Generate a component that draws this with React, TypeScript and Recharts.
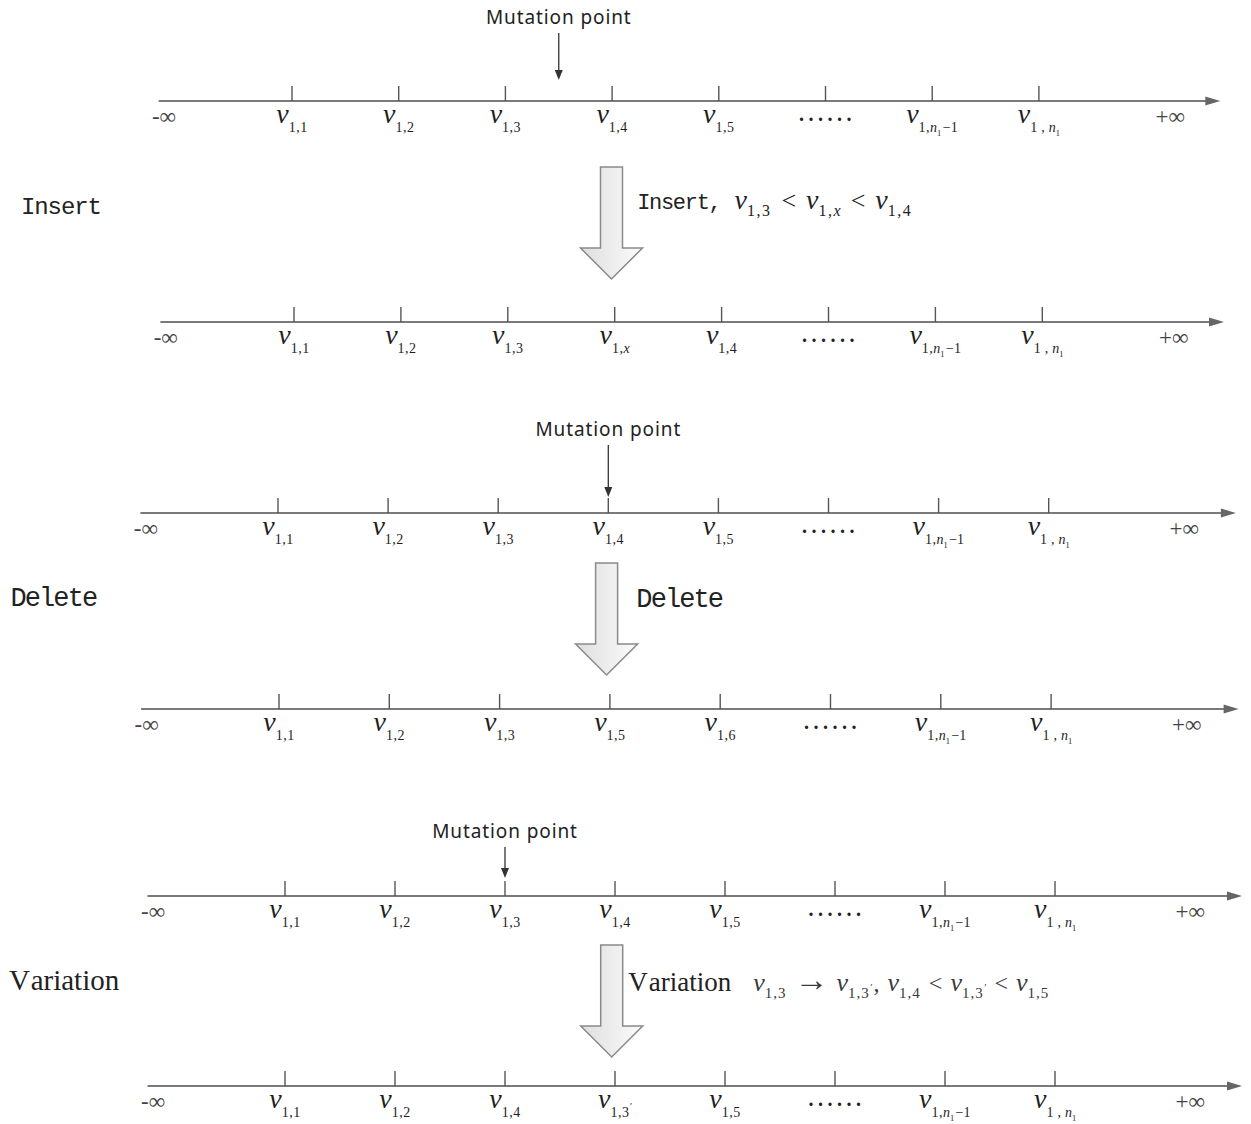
import React from 'react';
import { ComposedChart, XAxis, YAxis, Scatter, ReferenceLine } from 'recharts';

// ---------------- data ----------------
const tickIndex = [1, 2, 3, 4, 5, 6, 7, 8];
const labelsBeforeInsert = ['1,1', '1,2', '1,3', '1,4', '1,5', '...', '1,n1-1', '1 , n1'];
const labelsAfterInsert = ['1,1', '1,2', '1,3', '1,x', '1,4', '...', '1,n1-1', '1 , n1'];
const labelsBeforeDelete = ['1,1', '1,2', '1,3', '1,4', '1,5', '...', '1,n1-1', '1 , n1'];
const labelsAfterDelete = ['1,1', '1,2', '1,3', '1,5', '1,6', '...', '1,n1-1', '1 , n1'];
const labelsBeforeVariation = ['1,1', '1,2', '1,3', '1,4', '1,5', '...', '1,n1-1', '1 , n1'];
const labelsAfterVariation = ['1,1', '1,2', '1,4', "1,3'", '1,5', '...', '1,n1-1', '1 , n1'];
const infinityText = ['-∞', '+∞'];
const infinityIndex = [-0.2, 9.23];
const axisExtent = [-0.25, 9.7];
const mutationIndex = [3.5, 4, 3];
const operationNames = ['Insert', 'Delete', 'Variation'];
const insertRule = ['Insert,', 'v1,3', '<', 'v1,x', '<', 'v1,4'];
const deleteRule = ['Delete'];
const variationRule = ['Variation', 'v1,3', '→', "v1,3'", ',', 'v1,4', '<', "v1,3'", '<', 'v1,5'];

// ---------------- layout ----------------
const W = 1251;
const H = 1124;
const ROW_Y = [101, 322, 513, 709, 896, 1086];
const ROW_FIRST = [292, 294, 278, 279, 285, 285];
const ROW_STEP = [106.7, 106.9, 110.1, 110.3, 110, 110];
const MUT_ROW = [0, 2, 4];
const MUT_GAP = [21, 16, 18];
const MUT_LEN = [47, 52, 31];
const BLOCK_ROW = [1, 3, 5];
const BLOCK_INDEX = 3.97;
const BLOCK_TOP_OFFSET = [66, 50, 49];
const OP_LEFT_INDEX = [-1.54, -1.43, -1.51];
const OP_LEFT_ROW = [0, 2, 4];
const OP_BASELINE = [214, 606, 990];
const RULE_ROW = [1, 3, 5];
const RULE_INDEX = [4.21, 4.24, 4.12];
const RULE_BASELINE = [209, 607, 991];

const SERIF = '"Liberation Serif", "Times New Roman", serif';
const MONO = '"Liberation Mono", "Courier New", monospace';
const SANS = '"Noto Sans", "Open Sans", sans-serif';

const rowLabels = [
  labelsBeforeInsert,
  labelsAfterInsert,
  labelsBeforeDelete,
  labelsAfterDelete,
  labelsBeforeVariation,
  labelsAfterVariation,
];

const rowDomain = (r: number): [number, number] => [
  1 - ROW_FIRST[r] / ROW_STEP[r],
  1 + (W - ROW_FIRST[r]) / ROW_STEP[r],
];

type Seg = {
  t: string;
  size: number;
  level: number;
  italic?: boolean;
  dx?: number;
  ls?: number;
  family?: string;
  fill?: string;
};

function subscriptSegs(sub: string, size: number, drop: number, ls = 0): Seg[] {
  const segs: Seg[] = [];
  let buf = '';
  let pending = 0;
  const flush = () => {
    if (buf) {
      segs.push({ t: buf, size, level: drop, dx: pending, ls });
      pending = 0;
      buf = '';
    }
  };
  for (let i = 0; i < sub.length; i++) {
    const c = sub[i];
    if (c === 'n' && sub[i + 1] === '1') {
      flush();
      segs.push({ t: 'n', size, level: drop, italic: true, dx: pending });
      pending = 0;
      segs.push({ t: '1', size: size * 0.6, level: drop + size * 0.25 });
      i++;
    } else if (c === 'x') {
      flush();
      segs.push({ t: 'x', size, level: drop, italic: true, dx: pending });
      pending = 0;
    } else if (c === "'") {
      flush();
      segs.push({ t: '′', size: size * 0.7, level: drop - size * 0.5, dx: 0.5 });
    } else if (c === '-') {
      flush();
      segs.push({ t: '−', size, level: drop, dx: 1.5 + pending });
      pending = 0;
    } else if (c === ' ') {
      flush();
      pending += size * 0.25;
    } else {
      buf += c;
    }
  }
  flush();
  return segs;
}

function renderSegs(segs: Seg[]) {
  let cur = 0;
  return segs.map((s, k) => {
    const dy = s.level - cur;
    cur = s.level;
    return (
      <tspan
        key={k}
        dy={dy}
        dx={s.dx ? s.dx : undefined}
        fontSize={s.size}
        fontStyle={s.italic ? 'italic' : 'normal'}
        letterSpacing={s.ls ? s.ls : undefined}
        fontFamily={s.family}
        fill={s.fill}
      >
        {s.t}
      </tspan>
    );
  });
}

// ---------- shapes ----------
const TickShape = (props: any) => {
  const { cx, cy, payload } = props;
  const sub: string = payload.sub;
  return (
    <g>
      <line x1={cx} y1={cy} x2={cx} y2={cy - 15} stroke="#555" strokeWidth={1.4} />
      {sub === '...' ? (
        <text x={cx + 2} y={cy + 20} textAnchor="middle" fontFamily={SERIF} fontSize={20} fontWeight="bold" letterSpacing={4.5} fill="#222">
          ......
        </text>
      ) : (
        <text x={cx} y={cy + 22} textAnchor="middle" fontFamily={SERIF} fill="#1e1e1e">
          {renderSegs([{ t: 'v', size: 28, level: 0, italic: true }, ...subscriptSegs(sub, 14, 9, 0.5)])}
        </text>
      )}
    </g>
  );
};

const AxisShape = (props: any) => {
  const { x1, y1, x2, y2 } = props;
  return (
    <g>
      <line x1={x1} y1={y1} x2={x2 - 8} y2={y2} stroke="#7a7a7a" strokeWidth={2} />
      <polygon points={`${x2},${y2} ${x2 - 15},${y2 - 4.5} ${x2 - 15},${y2 + 4.5}`} fill="#666" />
    </g>
  );
};

const InfinityShape = (props: any) => {
  const { cx, cy, payload } = props;
  return (
    <text x={cx} y={cy + 23} textAnchor="middle" fontFamily={SERIF} fontSize={23} fill="#444">
      {payload.t}
    </text>
  );
};

const MutationShape = (props: any) => {
  const { cx, cy, payload } = props;
  const top = cy - payload.len;
  return (
    <g>
      <text x={cx} y={top - 9} textAnchor="middle" fontFamily={SANS} fontSize={19} letterSpacing={0.9} fill="#222">
        Mutation point
      </text>
      <line x1={cx} y1={top} x2={cx} y2={cy - 8} stroke="#333" strokeWidth={1.3} />
      <polygon points={`${cx},${cy} ${cx - 4},${cy - 10} ${cx + 4},${cy - 10}`} fill="#333" />
    </g>
  );
};

const BlockArrowShape = (props: any) => {
  const { cx, cy, payload } = props;
  const sw = 11;
  const hw = 31;
  const shaft = 81;
  const head = 31;
  const id = `blockGrad${payload.k}`;
  const pts = [
    [cx - sw, cy],
    [cx + sw, cy],
    [cx + sw, cy + shaft],
    [cx + hw, cy + shaft],
    [cx, cy + shaft + head],
    [cx - hw, cy + shaft],
    [cx - sw, cy + shaft],
  ]
    .map((p) => p.join(','))
    .join(' ');
  return (
    <g>
      <defs>
        <linearGradient id={id} x1="0" y1="0" x2="1" y2="0">
          <stop offset="0%" stopColor="#dedede" />
          <stop offset="100%" stopColor="#fbfbfb" />
        </linearGradient>
      </defs>
      <polygon points={pts} fill={`url(#${id})`} stroke="#8a8a8a" strokeWidth={1.5} strokeLinejoin="miter" />
    </g>
  );
};

const OpLabelShape = (props: any) => {
  const { cx, cy, payload } = props;
  const name: string = payload.name;
  if (name === 'Variation') {
    return (
      <text x={cx} y={cy} fontFamily={SERIF} fontSize={29} fill="#222">
        <tspan>V</tspan>
        <tspan dx={4}>ariation</tspan>
      </text>
    );
  }
  const size = name === 'Insert' ? 24 : 27;
  const ls = name === 'Insert' ? -1.1 : -1.9;
  return (
    <text x={cx} y={cy} fontFamily={MONO} fontSize={size} letterSpacing={ls} fill="#222">
      {name}
    </text>
  );
};

type RuleCfg = {
  wordSize: number;
  wordLs: number;
  wordFamily?: string;
  vSize: number;
  subSize: number;
  subDrop: number;
  subLs: number;
  symSize: number;
  arrowSize: number;
  gap: number;
  firstGap: number;
  mathFill: string;
};

const ruleCfgs: RuleCfg[] = [
  { wordSize: 22, wordLs: -1.3, wordFamily: MONO, vSize: 28, subSize: 16, subDrop: 7, subLs: 1.5, symSize: 26, arrowSize: 30, gap: 10, firstGap: 14, mathFill: '#222' },
  { wordSize: 27, wordLs: -1.9, wordFamily: MONO, vSize: 28, subSize: 16, subDrop: 7, subLs: 1.5, symSize: 26, arrowSize: 30, gap: 10, firstGap: 14, mathFill: '#222' },
  { wordSize: 27, wordLs: 0, vSize: 26, subSize: 15, subDrop: 7, subLs: 1, symSize: 24, arrowSize: 34, gap: 8, firstGap: 22, mathFill: '#3a3a3a' },
];

function ruleSegs(tokens: string[], cfg: RuleCfg): Seg[] {
  const segs: Seg[] = [];
  tokens.forEach((tok, i) => {
    const gap = i === 0 ? 0 : i === 1 ? cfg.firstGap : cfg.gap;
    if (/^v\d/.test(tok)) {
      segs.push({ t: 'v', size: cfg.vSize, level: 0, italic: true, dx: gap, fill: cfg.mathFill });
      subscriptSegs(tok.slice(1), cfg.subSize, cfg.subDrop, cfg.subLs).forEach((s) =>
        segs.push({ ...s, fill: cfg.mathFill })
      );
    } else if (tok === 'Variation') {
      segs.push({ t: 'V', size: cfg.wordSize, level: 0 });
      segs.push({ t: 'ariation', size: cfg.wordSize, level: 0, dx: 4 });
    } else if (/^[A-Za-z]/.test(tok)) {
      segs.push({ t: tok, size: cfg.wordSize, level: 0, dx: gap, ls: cfg.wordLs, family: cfg.wordFamily });
    } else {
      const size = tok === '→' ? cfg.arrowSize : cfg.symSize;
      const dx = tok === ',' ? 1 : gap;
      segs.push({ t: tok, size, level: 0, dx, fill: cfg.mathFill });
    }
  });
  return segs;
}

const RuleShape = (props: any) => {
  const { cx, cy, payload } = props;
  return (
    <text x={cx} y={cy} fontFamily={SERIF} fill="#222">
      {renderSegs(ruleSegs(payload.tokens, ruleCfgs[payload.k]))}
    </text>
  );
};

const rules = [insertRule, deleteRule, variationRule];

export default function App() {
  return (
    <div style={{ position: 'absolute', left: 0, top: 0, width: W, height: H, background: '#fff' }}>
      <ComposedChart width={W} height={H} margin={{ top: 0, right: 0, bottom: 0, left: 0 }}>
        {ROW_Y.map((_, r) => (
          <XAxis
            key={`xa${r}`}
            xAxisId={`r${r}`}
            type="number"
            dataKey="x"
            domain={rowDomain(r)}
            allowDataOverflow
            hide
          />
        ))}
        <YAxis yAxisId="y" type="number" dataKey="y" domain={[0, H]} reversed allowDataOverflow hide />

        {ROW_Y.map((y, r) => (
          <ReferenceLine
            key={`axis${r}`}
            xAxisId={`r${r}`}
            yAxisId="y"
            ifOverflow="visible"
            segment={[
              { x: axisExtent[0], y },
              { x: axisExtent[1], y },
            ]}
            shape={AxisShape}
          />
        ))}

        {rowLabels.map((labels, r) => (
          <Scatter
            key={`ticks${r}`}
            xAxisId={`r${r}`}
            yAxisId="y"
            data={labels.map((sub, i) => ({ x: tickIndex[i], y: ROW_Y[r], sub }))}
            shape={TickShape}
            isAnimationActive={false}
          />
        ))}

        {ROW_Y.map((y, r) => (
          <Scatter
            key={`inf${r}`}
            xAxisId={`r${r}`}
            yAxisId="y"
            data={infinityText.map((t, i) => ({ x: infinityIndex[i], y, t }))}
            shape={InfinityShape}
            isAnimationActive={false}
          />
        ))}

        {MUT_ROW.map((r, k) => (
          <Scatter
            key={`mut${k}`}
            xAxisId={`r${r}`}
            yAxisId="y"
            data={[{ x: mutationIndex[k], y: ROW_Y[r] - MUT_GAP[k], len: MUT_LEN[k] }]}
            shape={MutationShape}
            isAnimationActive={false}
          />
        ))}

        {BLOCK_ROW.map((r, k) => (
          <Scatter
            key={`block${k}`}
            xAxisId={`r${r}`}
            yAxisId="y"
            data={[{ x: BLOCK_INDEX, y: ROW_Y[r - 1] + BLOCK_TOP_OFFSET[k], k }]}
            shape={BlockArrowShape}
            isAnimationActive={false}
          />
        ))}

        {operationNames.map((name, k) => (
          <Scatter
            key={`op${k}`}
            xAxisId={`r${OP_LEFT_ROW[k]}`}
            yAxisId="y"
            data={[{ x: OP_LEFT_INDEX[k], y: OP_BASELINE[k], name }]}
            shape={OpLabelShape}
            isAnimationActive={false}
          />
        ))}

        {rules.map((tokens, k) => (
          <Scatter
            key={`rule${k}`}
            xAxisId={`r${RULE_ROW[k]}`}
            yAxisId="y"
            data={[{ x: RULE_INDEX[k], y: RULE_BASELINE[k], tokens, k }]}
            shape={RuleShape}
            isAnimationActive={false}
          />
        ))}
      </ComposedChart>
    </div>
  );
}
